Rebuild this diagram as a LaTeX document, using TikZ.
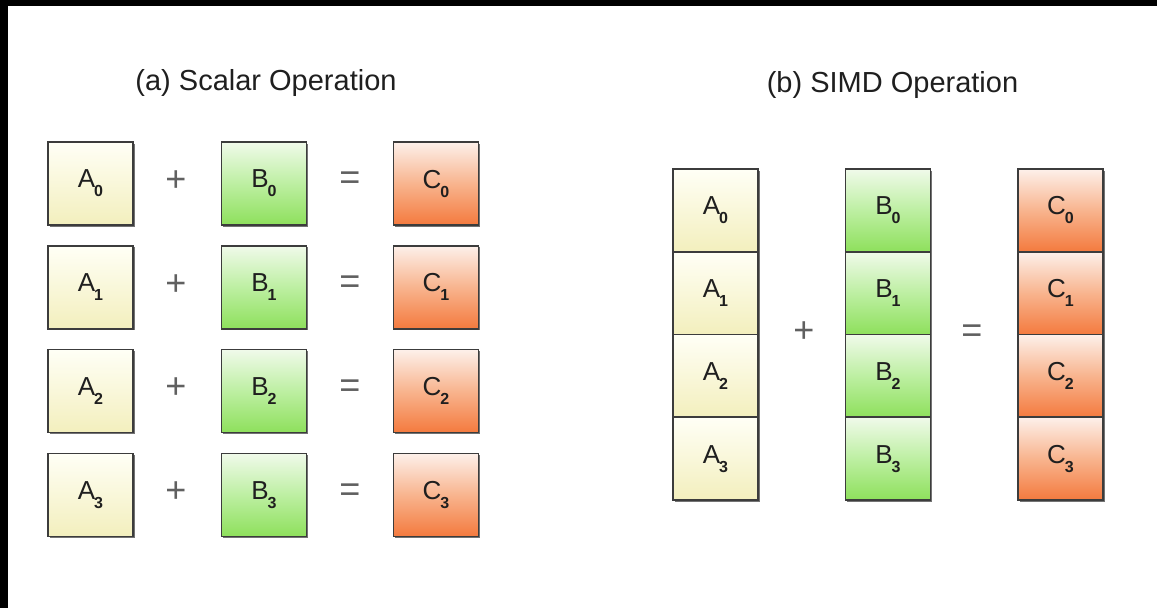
\documentclass[tikz,border=0pt]{standalone}
\usepackage{fontspec}
\setmainfont{Liberation Sans}
\usetikzlibrary{shadows}
\definecolor{ytop}{HTML}{FFFFF6}
\definecolor{ybot}{HTML}{F3EFBD}
\definecolor{gtop}{HTML}{F0FAEA}
\definecolor{gmid}{HTML}{BDEFA2}
\definecolor{gbot}{HTML}{8EE05C}
\definecolor{otop}{HTML}{FDF0EA}
\definecolor{omid}{HTML}{F8B48E}
\definecolor{obot}{HTML}{F47A3E}
\definecolor{boxline}{HTML}{3C3C3C}
\definecolor{signgray}{HTML}{606060}
\newcommand{\lbl}[2]{#1\hspace{-1pt}\raisebox{-9pt}{\fontsize{16}{16}\selectfont\bfseries #2}}

\begin{document}
\begin{tikzpicture}[x=1pt, y=-1pt,
    cell/.style={draw=boxline, line width=1.6pt, minimum width=85pt, inner sep=0pt,
        font=\fontsize{26}{26}\selectfont, text=black!88,
        general shadow={fill=black!55, shadow xshift=1.6pt, shadow yshift=-1.6pt}},
    abox/.style={cell, top color=ytop, bottom color=ybot},
    bbox/.style={cell, top color=gtop, bottom color=gbot, middle color=gmid},
    cbox/.style={cell, top color=otop, bottom color=obot, middle color=omid},
    sign/.style={font=\fontsize{36}{36}\selectfont, text=signgray},
    title/.style={font=\fontsize{29}{29}\selectfont, text=black!88}]
    \fill[black] (0,0) rectangle (1157,608);
    \fill[white] (8,6) rectangle (1157,608);
    \useasboundingbox (0,0) rectangle (1157,608);

    % (a) scalar
    \node[title] (ta) at (266,83) {(a) Scalar Operation};
    \foreach \i in {0,...,3} {
        \node[abox, minimum height=83pt] (a\i) at (90.5,183.5+103.8*\i) {\lbl{A}{\i}};
        \node[bbox, minimum height=83pt] (b\i) at (264,183.5+103.8*\i) {\lbl{B}{\i}};
        \node[cbox, minimum height=83pt] (c\i) at (436,183.5+103.8*\i) {\lbl{C}{\i}};
        \node[sign] (p\i) at (176,181+103.8*\i) {+};
        \node[sign] (e\i) at (350,181+103.8*\i) {=};
    }

    % (b) SIMD
    \node[title] (tb) at (892.5,85) {(b) SIMD Operation};
    \foreach \i in {0,...,3} {
        \node[abox, minimum height=82.75pt] (sa\i) at (715.5,210.4+82.75*\i) {\lbl{A}{\i}};
        \node[bbox, minimum height=82.75pt] (sb\i) at (888,210.4+82.75*\i) {\lbl{B}{\i}};
        \node[cbox, minimum height=82.75pt] (sc\i) at (1060.5,210.4+82.75*\i) {\lbl{C}{\i}};
    }
    \node[sign] (sp) at (804,332) {+};
    \node[sign] (se) at (972,334) {=};
\end{tikzpicture}
\end{document}
